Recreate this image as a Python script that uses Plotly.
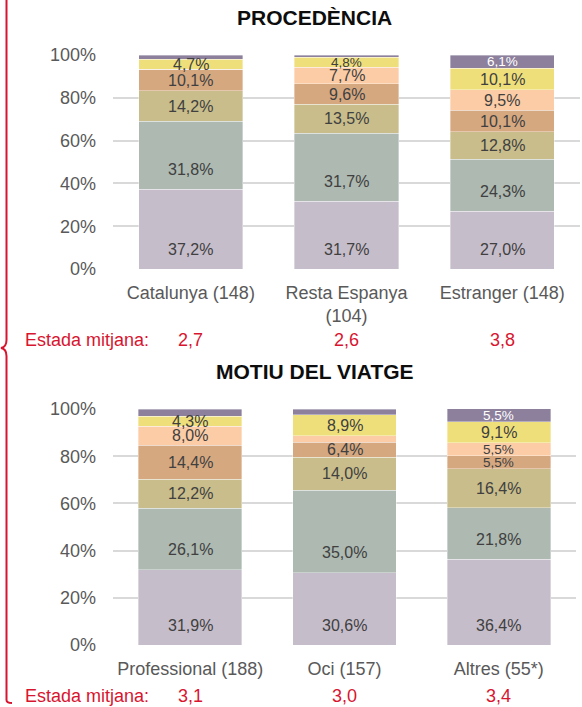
import plotly.graph_objects as go
from plotly.subplots import make_subplots

# dades (percentatges de baix a dalt de cada barra)
proc_cats = ['Catalunya (148)', 'Resta Espanya<br>(104)', 'Estranger (148)']
proc_s1 = [37.2, 31.7, 27.0]
proc_s2 = [31.8, 31.7, 24.3]
proc_s3 = [14.2, 13.5, 12.8]
proc_s4 = [10.1, 9.6, 10.1]
proc_s5 = [0.0, 7.7, 9.5]
proc_s6 = [4.7, 4.8, 10.1]
proc_s7 = [2.0, 1.0, 6.1]
proc_estada = [2.7, 2.6, 3.8]

motiu_cats = ['Professional (188)', 'Oci (157)', 'Altres (55*)']
motiu_s1 = [31.9, 30.6, 36.4]
motiu_s2 = [26.1, 35.0, 21.8]
motiu_s3 = [12.2, 14.0, 16.4]
motiu_s4 = [14.4, 6.4, 5.5]
motiu_s5 = [8.0, 2.7, 5.5]
motiu_s6 = [4.3, 8.9, 9.1]
motiu_s7 = [3.1, 2.4, 5.5]
motiu_estada = [3.1, 3.0, 3.4]

y_ticks = [0, 20, 40, 60, 80, 100]

# estil
W, H = 582, 707
FONT = 'Liberation Sans, Arial, sans-serif'
RED = '#D8152F'
GREY_TXT = '#595959'
LBL_TXT = '#404040'
colors = ['#C6BDCA', '#ADB9B1', '#C8BD8B', '#D6A880', '#FBCCA5', '#EFDF7B', '#8C809D']
label_colors = [LBL_TXT] * 6 + ['white']
# etiquetes que Excel ha reduit
small_labels = {('Resta Espanya<br>(104)', 6), ('Estranger (148)', 7),
                ('Altres (55*)', 4), ('Altres (55*)', 5), ('Altres (55*)', 7)}


def px(x):
    return x / W


def py(y):
    return 1 - y / H


def pct(v):
    return f'{v:.1f}'.replace('.', ',') + '%'


fig = make_subplots(2, 1)
annotations = []

panels = [
    (1, proc_cats, [proc_s1, proc_s2, proc_s3, proc_s4, proc_s5, proc_s6, proc_s7]),
    (2, motiu_cats, [motiu_s1, motiu_s2, motiu_s3, motiu_s4, motiu_s5, motiu_s6, motiu_s7]),
]
for row, cats, series in panels:
    xref = 'x' if row == 1 else 'x2'
    yref = 'y' if row == 1 else 'y2'
    base = [0.0] * len(cats)
    for k, vals in enumerate(series):
        fig.add_trace(
            go.Bar(
                x=cats,
                y=vals,
                marker=dict(color=colors[k], line=dict(color='rgba(255,255,255,0.6)', width=0.6)),
                showlegend=False,
                hoverinfo='skip',
                ),
            row=row,
            col=1
            )
        for i, c in enumerate(cats):
            v = vals[i]
            if v >= 4:
                if k < 2:
                    yy, shift = base[i], 20
                else:
                    yy, shift = base[i] + v / 2, 0
                size = 13.5 if (c, k + 1) in small_labels else 16
                annotations.append(dict(
                    x=c, y=yy, xref=xref, yref=yref, yshift=shift,
                    text=pct(v), showarrow=False, xanchor='center', yanchor='middle',
                    font=dict(family=FONT, size=size, color=label_colors[k]),
                    ))
            base[i] += v

# estada mitjana
for cats, estada, xref, ypix in [(proc_cats, proc_estada, 'x', 340), (motiu_cats, motiu_estada, 'x2', 696)]:
    annotations.append(dict(x=px(23), y=py(ypix), xref='paper', yref='paper', xanchor='left', yanchor='middle',
                            text='Estada mitjana:', showarrow=False,
                            font=dict(family=FONT, size=18, color=RED)))
    for c, e in zip(cats, estada):
        annotations.append(dict(x=c, y=py(ypix), xref=xref, yref='paper', xanchor='center', yanchor='middle',
                                text=f'{e:.1f}'.replace('.', ','), showarrow=False,
                                font=dict(family=FONT, size=18, color=RED)))

# titols
for text, xpix, ypix in [('PROCEDÈNCIA', 314.5, 17), ('MOTIU DEL VIATGE', 315, 371)]:
    annotations.append(dict(x=px(xpix), y=py(ypix), xref='paper', yref='paper', text=f'<b>{text}</b>',
                            xanchor='center', yanchor='middle', showarrow=False,
                            font=dict(family=FONT, size=21, color='#0D0D0D')))

# clau vermella a l'esquerra
p = [(6.5, 0), (6.5, 340), (6.5, 347), (1, 348), (6.5, 349), (6.5, 356), (6.5, 700), (6.5, 703), (12, 703)]
path = (f'M {px(p[0][0])},{py(p[0][1])} L {px(p[1][0])},{py(p[1][1])} '
        f'Q {px(p[2][0])},{py(p[2][1])} {px(p[3][0])},{py(p[3][1])} '
        f'Q {px(p[4][0])},{py(p[4][1])} {px(p[5][0])},{py(p[5][1])} '
        f'L {px(p[6][0])},{py(p[6][1])} '
        f'Q {px(p[7][0])},{py(p[7][1])} {px(p[8][0])},{py(p[8][1])}')

fig.update_layout(
    width=W,
    height=H,
    margin=dict(l=0, r=0, t=0, b=0, autoexpand=False),
    paper_bgcolor='white',
    plot_bgcolor='white',
    barmode='stack',
    bargap=0.33,
    font=dict(family=FONT, color=GREY_TXT),
    annotations=annotations,
    shapes=[dict(type='path', xref='paper', yref='paper', path=path,
                 line=dict(color=RED, width=2))],
    )
axis_y = dict(range=[0, 100], tickmode='array', tickvals=y_ticks, ticktext=[f'{t}%' for t in y_ticks],
              showgrid=True, gridcolor='#D9D9D9', gridwidth=1.5, zeroline=False, automargin=False,
              tickfont=dict(family=FONT, size=18, color=GREY_TXT), ticklabelstandoff=16)
axis_x = dict(showgrid=False, zeroline=False, automargin=False,
              tickfont=dict(family=FONT, size=18, color=GREY_TXT), ticklabelstandoff=11)
fig.update_layout(
    xaxis=dict(axis_x, domain=[px(113), px(580)]),
    yaxis=dict(axis_y, domain=[py(269), py(55)]),
    xaxis2=dict(axis_x, domain=[px(113), px(576)]),
    yaxis2=dict(axis_y, domain=[py(645), py(409)]),
    )

# sense el marge per defecte del body ni la barra d'eines
fig.write_html('out.html', config={'displayModeBar': False},
               post_script="document.body.style.margin = '0';")
